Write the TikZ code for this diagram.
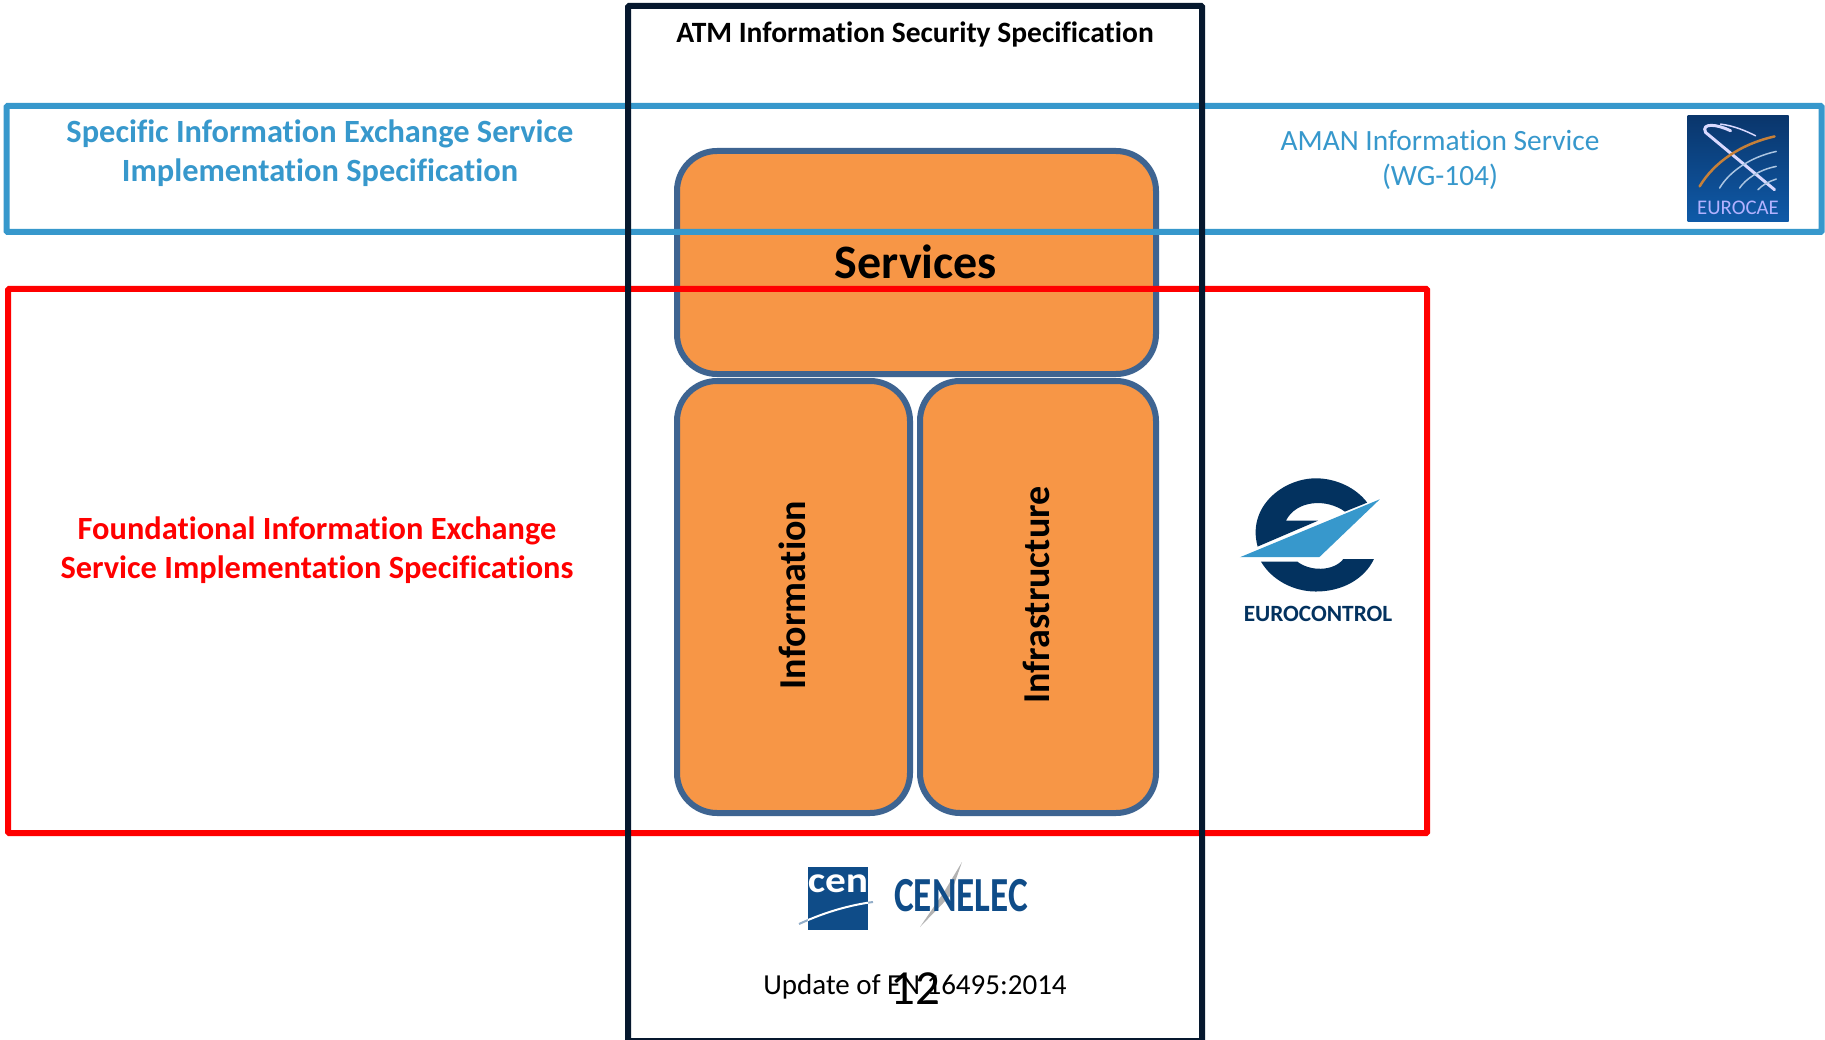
\documentclass[tikz,border=0pt]{standalone}
\usepackage{fontspec}
\setmainfont{Carlito}[Ligatures=NoCommon]
\usepackage{xcolor}
\usetikzlibrary{positioning, calc}
\definecolor{specblue}{HTML}{3798CC}
\definecolor{specred}{HTML}{FF0000}
\definecolor{specnavy}{HTML}{06182E}
\definecolor{blockfill}{HTML}{F79646}
\definecolor{blockline}{HTML}{3E6491}
\definecolor{ctrlnavy}{HTML}{03325F}
\definecolor{cenblue}{HTML}{0F4C88}
\definecolor{caetop}{HTML}{0A366C}
\definecolor{caebottom}{HTML}{0F5AA8}

\begin{document}
\begin{tikzpicture}[
        x=1pt, y=-1pt,
        frame/.style={rectangle, draw, line width=6pt, inner sep=0pt, rounded corners=1pt},
        block/.style={rectangle, draw=blockline, fill=blockfill, line width=6pt, inner sep=0pt, rounded corners=40pt},
        blocktext/.style={font=\fontsize{38}{42}\selectfont\bfseries, rotate=90},
        spectext/.style={font=\fontsize{32.4}{39}\selectfont\bfseries, align=center, inner sep=0pt}
    ]
        \useasboundingbox (0,0) rectangle (1825,1040);
        \fill[white] (0,0) rectangle (1825,1040);

        % orange blocks
        \node[block, minimum width=479pt, minimum height=223pt] (services) at (916.5,262.5) {};
        \node[block, minimum width=233pt, minimum height=432pt] (information) at (793.5,597) {};
        \node[block, minimum width=236pt, minimum height=432pt] (infrastructure) at (1038,597) {};
        \node[font=\fontsize{48}{52}\selectfont\bfseries] (servicestext) at (916,262) {Services};
        \node[blocktext] (informationtext) at (792,595) {Information};
        \node[blocktext] (infrastructuretext) at (1036,595) {Infrastructure};

        % specification frames
        \node[frame, draw=specblue, minimum width=1815pt, minimum height=126pt] (specific) at (914,169) {};
        \node[frame, draw=specred, minimum width=1419pt, minimum height=544pt] (foundational) at (717.5,561) {};
        \node[frame, draw=specnavy, minimum width=574pt, minimum height=1035pt] (security) at (915,523.5) {};

        % texts
        \node[font=\fontsize{29.5}{32}\selectfont\bfseries] (securitytext) at (915,34) {ATM Information Security Specification};
        \node[spectext, text=specblue] (specifictext) at (320,153) {Specific Information Exchange Service\\Implementation Specification};
        \node[spectext, text=specred] (foundationaltext) at (317,550) {Foundational Information Exchange\\Service Implementation Specifications};
        \node[font=\fontsize{29.4}{35}\selectfont, align=center, text=specblue, inner sep=0pt] (amantext) at (1440,160) {AMAN Information Service\\(WG-104)};
        \node[font=\fontsize{29}{32}\selectfont] (updatetext) at (915,987) {Update of EN 16495:2014};
        \node[font=\fontsize{49}{52}\selectfont] (pagenumber) at (915,989) {12};

        % eurocae logo
        \node[rectangle, minimum width=101pt, minimum height=106pt, inner sep=0pt, top color=caetop, bottom color=caebottom] (eurocae) at (1738,169) {};
        \begin{scope}[shift={(eurocae.north west)}, x=0.333pt, y=-0.333pt, line cap=round]
            \draw[white!85!blue, line width=3pt] (130,45) .. controls (90,25) and (40,20) .. (55,50) -- (262,222);
            \draw[white!85!blue, line width=1.5pt] (100,25) .. controls (140,30) and (175,45) .. (205,60);
            \draw[orange!55!gray, line width=2.5pt] (37,212) .. controls (80,140) and (160,85) .. (262,62);
            \draw[white!65!caebottom, line width=1.5pt] (97,217) .. controls (125,170) and (185,125) .. (267,107);
            \draw[white!65!caebottom, line width=1.5pt] (157,217) .. controls (175,190) and (215,162) .. (267,152);
            \draw[white!65!caebottom, line width=1.5pt] (212,222) .. controls (225,208) and (245,197) .. (267,190);
        \end{scope}
        \node[font=\fontsize{20.8}{22}\selectfont, text=white!70!blue, inner sep=0pt] (eurocaetext) at (1738,208) {EUROCAE};

        % eurocontrol logo
        \begin{scope}[shift={(1210,450)}, x=0.333pt, y=-0.333pt]
            \fill[ctrlnavy] (143,290) .. controls (110,170) and (220,85) .. (318,85)
                .. controls (380,85) and (440,115) .. (472,158) -- (405,185)
                .. controls (350,145) and (260,150) .. (228,212) -- (325,212) -- cycle;
            \fill[ctrlnavy] (153,335) .. controls (185,390) and (250,425) .. (318,425)
                .. controls (400,425) and (465,385) .. (492,328) -- (400,328)
                .. controls (370,365) and (300,365) .. (262,335) -- cycle;
            \fill[specblue] (90,322) -- (510,148) -- (328,322) -- cycle;
        \end{scope}
        \node[font=\fontsize{23.3}{26}\selectfont\bfseries, text=ctrlnavy] (eurocontrol) at (1318,614) {EUROCONTROL};

        % cen and cenelec logos
        \draw[cenblue!45!white, line width=2pt] (799,924) .. controls (825,912) and (850,905) .. (873,902);
        \node[rectangle, fill=cenblue, minimum width=60pt, minimum height=63pt, inner sep=0pt] (cen) at (838,898) {};
        \node[font=\fontsize{36}{36}\selectfont\bfseries, text=white, inner sep=0pt, xscale=1.15] (centext) at (838,884) {cen};
        \begin{scope}
            \clip (cen.north west) rectangle (cen.south east);
            \draw[white, line width=2pt] (799,924) .. controls (825,912) and (850,905) .. (873,902);
        \end{scope}
        \fill[gray!60] (962,862) -- (944,892) -- (920,927) -- (950,896) -- cycle;
        \node[font=\fontsize{49}{49}\selectfont\bfseries, text=cenblue, inner sep=0pt, xscale=0.76] (cenelec) at (961,896) {CENELEC};
    \end{tikzpicture}
\end{document}
